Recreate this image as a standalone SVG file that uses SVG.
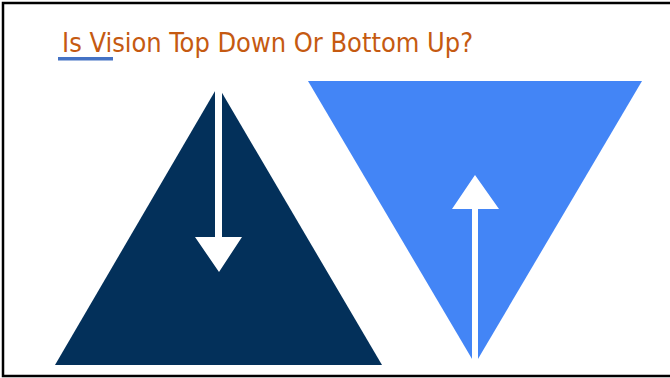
<svg xmlns="http://www.w3.org/2000/svg" width="670" height="378" viewBox="0 0 670 378">
  <style>
    .title { font-family: "DejaVu Sans Condensed", "Liberation Sans", sans-serif; font-size: 27px; fill: #C55A11; }
    .arrow { fill: #FFFFFF; }
  </style>
  <rect x="0" y="0" width="670" height="378" fill="#FFFFFF"/>
  <rect x="3" y="3" width="680" height="373" fill="none" stroke="#000000" stroke-width="2.5"/>
  <g id="title">
    <text class="title" x="62" y="52" textLength="411" lengthAdjust="spacingAndGlyphs">Is Vision Top Down Or Bottom Up?</text>
    <rect x="58" y="57" width="55" height="3.5" fill="#4472C4"/>
  </g>
  <g id="top-down">
    <polygon points="218,86 382,365 55,365" fill="#03305A"/>
  </g>
  <g id="bottom-up">
    <polygon points="308,81 642,81 475,364" fill="#4385F6"/>
  </g>
  <g id="connectors">
    <polygon class="arrow" points="215,84 222,84 222,237 242,237 219,272 195,237 215,237"/>
    <polygon class="arrow" points="472,366 478,366 478,209 499,209 475,175 452,209 472,209"/>
  </g>
</svg>
